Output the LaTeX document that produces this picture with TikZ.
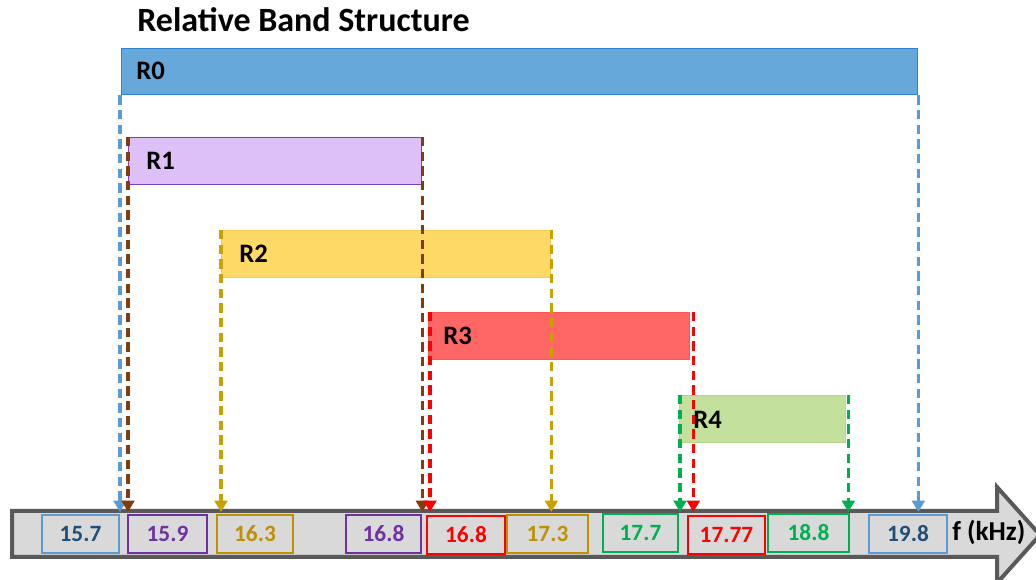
\documentclass[tikz,border=0pt]{standalone}
\usepackage{fontspec}
\setmainfont{Carlito}
\usetikzlibrary{arrows.meta}
\definecolor{bR0}{HTML}{66A8DA}
\definecolor{dR0}{HTML}{2E84CC}
\definecolor{bR1}{HTML}{DEC0F8}
\definecolor{dR1}{HTML}{7F3FBF}
\definecolor{bR2}{HTML}{FFD966}
\definecolor{dR2}{HTML}{F4CC55}
\definecolor{bR3}{HTML}{FF6666}
\definecolor{dR3}{HTML}{FF5555}
\definecolor{bR4}{HTML}{C3E19C}
\definecolor{dR4}{HTML}{B2D98A}
\definecolor{cblue}{HTML}{5B9BD5}
\definecolor{cnavy}{HTML}{1F4E79}
\definecolor{cbrown}{HTML}{843C0C}
\definecolor{cgold}{HTML}{BF9000}
\definecolor{cgoldd}{HTML}{C9A100}
\definecolor{cpurple}{HTML}{7030A0}
\definecolor{cred}{HTML}{FF0000}
\definecolor{cgreen}{HTML}{00B050}
\definecolor{axfill}{HTML}{D9D9D9}
\definecolor{axdraw}{HTML}{595959}
\begin{document}
\begin{tikzpicture}[x=0.75pt,y=-0.75pt,
  wd/.style={minimum width=#1*0.75pt},
  ht/.style={minimum height=#1*0.75pt},
  band/.style 2 args={fill=#1, draw=#2, line width=1pt, inner sep=0pt, anchor=north west},
  blabel/.style={font=\fontsize{20}{24}\selectfont\bfseries, anchor=west, inner sep=0pt},
  dl/.style={draw=#1, line width=2.6pt, dash pattern=on 7pt off 4pt,
     -{Triangle[width=9.5pt,length=8.5pt,fill=#1]}, shorten >=0pt},
  vb/.style 2 args={draw=#1, text=#2, line width=1pt, inner sep=0pt, minimum height=28.5pt,
     font=\fontsize{17.5}{20}\selectfont\bfseries}]
\useasboundingbox (0,0) rectangle (1036,580);
\clip (0,0) rectangle (1036,580);

% title
\node[font=\fontsize{25.5}{30}\selectfont\bfseries, anchor=west, inner sep=0pt] (title) at (137,20) {Relative Band Structure};

% axis block arrow
\path[fill=axfill, draw=axdraw, line width=3pt, line join=miter]
  (12,511) -- (997,511) -- (997,487) -- (1040,535) -- (997,583) -- (997,557) -- (12,557) -- cycle;
\coordinate (axtop) at (0,512);

% value boxes
\node[vb={cblue}{cnavy}, wd=77] (v1) at (80.5,534) {15.7};
\node[vb={cpurple}{cpurple}, wd=79] (v2) at (167.5,534) {15.9};
\node[vb={cgold}{cgold}, wd=76] (v3) at (255,534) {16.3};
\node[vb={cpurple}{cpurple}, wd=75] (v4) at (383.5,534) {16.8};
\node[vb={cred}{cred}, wd=78] (v5) at (466,535) {16.8};
\node[vb={cgold}{cgold}, wd=81] (v6) at (547.5,534) {17.3};
\node[vb={cgreen}{cgreen}, wd=75] (v7) at (640.5,533) {17.7};
\node[vb={cred}{cred}, wd=77] (v8) at (726.5,535) {17.77};
\node[vb={cgreen}{cgreen}, wd=81] (v9) at (808.5,533) {18.8};
\node[vb={cblue}{cnavy}, wd=78] (v10) at (908,534) {19.8};
\node[font=\fontsize{20.5}{24}\selectfont\bfseries, anchor=west, inner sep=0pt] (fk) at (952,532) {f (kHz)};

% bands
\node[band={bR0}{dR0}, wd=796, ht=46] (r0) at (121,48) {};
\node[band={bR1}{dR1}, wd=293, ht=47] (r1) at (128,137) {};
\node[band={bR2}{dR2}, wd=329, ht=47] (r2) at (221,230) {};
\node[band={bR3}{dR3}, wd=261, ht=47] (r3) at (428,312) {};
\node[band={bR4}{dR4}, wd=166, ht=47] (r4) at (679,395) {};
\node[blabel] (l0) at (136,71) {R0};
\node[blabel] (l1) at (146,161) {R1};
\node[blabel] (l2) at (239,254) {R2};
\node[blabel] (l3) at (443,336) {R3};
\node[blabel] (l4) at (693,420) {R4};

% dashed connectors
\draw[dl=cblue] ([xshift=-0.75pt]r0.south west) -- ([xshift=-0.75pt]r0.south west |- axtop);
\draw[dl=cblue] (r0.south east) -- (r0.south east |- axtop);
\draw[dl=cbrown] (r1.north west) -- (r1.north west |- axtop);
\draw[dl=cbrown] (r1.north east) -- (r1.north east |- axtop);
\draw[dl=cgoldd] (r2.north west) -- (r2.north west |- axtop);
\draw[dl=cgoldd] (r2.north east) -- (r2.north east |- axtop);
\draw[dl=cred] ([xshift=1.5pt]r3.north west) -- ([xshift=1.5pt]r3.north west |- axtop);
\draw[dl=cred] ([xshift=2.25pt]r3.north east) -- ([xshift=2.25pt]r3.north east |- axtop);
\draw[dl=cgreen] ([xshift=0.75pt]r4.north west) -- ([xshift=0.75pt]r4.north west |- axtop);
\draw[dl=cgreen] ([xshift=1.5pt]r4.north east) -- ([xshift=1.5pt]r4.north east |- axtop);
\end{tikzpicture}
\end{document}
